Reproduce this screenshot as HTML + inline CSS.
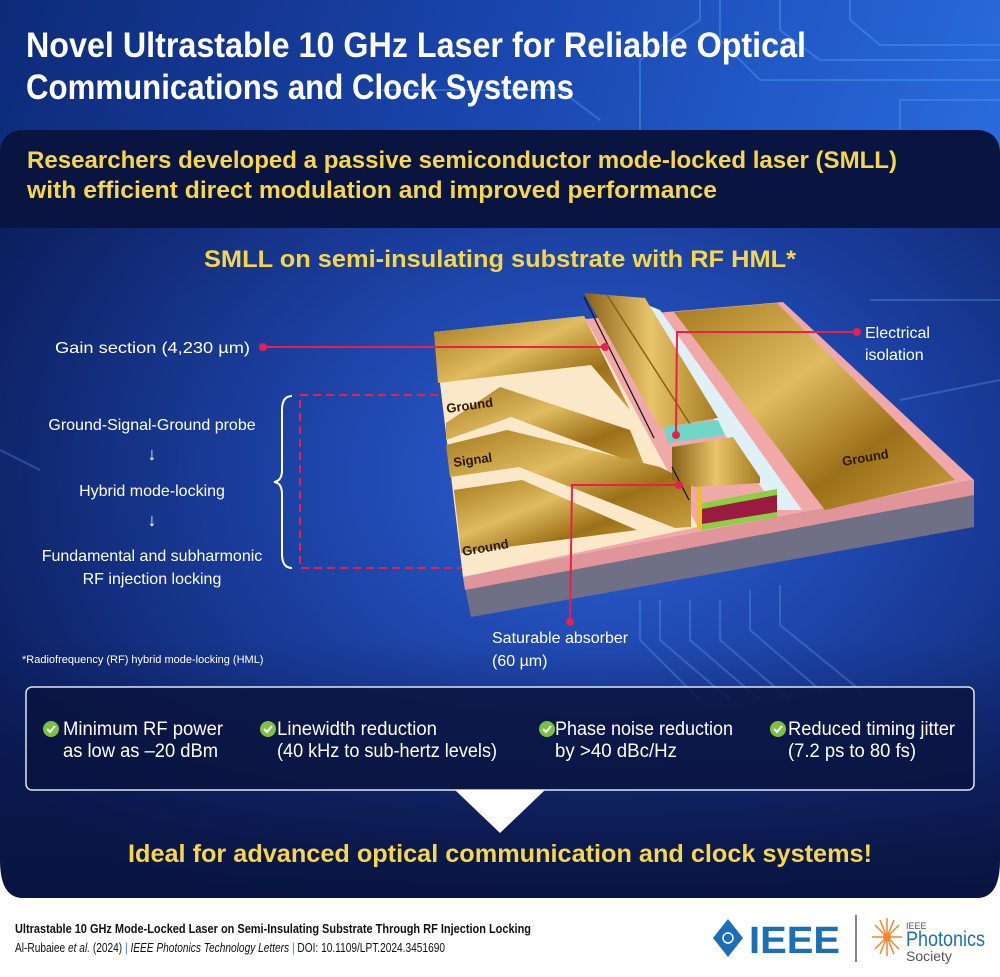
<!DOCTYPE html>
<html><head><meta charset="utf-8"><style>
html,body{margin:0;padding:0;background:#fff}
svg{display:block}
text{font-family:"Liberation Sans Narrow","Liberation Sans",sans-serif}
</style></head><body>
<svg width="1000" height="977" viewBox="0 0 1000 977" xmlns="http://www.w3.org/2000/svg">
<defs>
<linearGradient id="top" x1="0" y1="0" x2="1" y2="0.3">
<stop offset="0" stop-color="#0d2a78"/><stop offset="0.5" stop-color="#1a47b0"/><stop offset="1" stop-color="#2a6ee0"/></linearGradient>
<radialGradient id="mid" cx="0.6" cy="0.45" r="0.7">
<stop offset="0" stop-color="#2d62d8"/><stop offset="0.5" stop-color="#1a3e9e"/><stop offset="1" stop-color="#0b1c58"/></radialGradient>
<linearGradient id="fade" x1="0" y1="0" x2="0" y2="1">
<stop offset="0" stop-color="#0a1548" stop-opacity="0"/><stop offset="1" stop-color="#091440" stop-opacity="1"/></linearGradient>
<linearGradient id="gold" x1="0" y1="0" x2="1" y2="1">
<stop offset="0" stop-color="#a67a1e"/><stop offset="0.4" stop-color="#e0bb60"/><stop offset="0.7" stop-color="#9c7018"/><stop offset="1" stop-color="#caa040"/></linearGradient>
<linearGradient id="gold2" x1="0" y1="0" x2="1" y2="0">
<stop offset="0" stop-color="#8a6015"/><stop offset="0.5" stop-color="#e8c56a"/><stop offset="1" stop-color="#a47a20"/></linearGradient>
</defs>
<rect width="1000" height="898" fill="url(#top)"/>
<g stroke="#4a9af0" stroke-width="2" fill="none" opacity="0.45">
<path d="M720 0 L720 40 L760 80 L1000 80"/><path d="M780 0 L780 30 L820 60 L1000 60"/><path d="M850 0 L850 20 L880 45 L1000 45"/>
<path d="M640 130 L640 60 L700 20 L700 0"/><path d="M900 130 L900 100 L1000 100"/><path d="M600 120 L560 90 L380 90"/>
</g>
<path d="M0 155 Q0 130 25 130 L975 130 Q1000 130 1000 155 L1000 875 Q1000 898 977 898 L23 898 Q0 898 0 875 Z" fill="url(#mid)"/>
<path d="M0 155 Q0 130 25 130 L975 130 Q1000 130 1000 155 L1000 228 L0 228 Z" fill="#0a1440"/>
<rect x="0" y="640" width="1000" height="258" fill="url(#fade)"/>
<path d="M0 860 Q0 898 23 898 L977 898 Q1000 898 1000 860 L1000 898 L0 898Z" fill="#fff"/>
<g stroke="#5aa0f0" stroke-width="2" fill="none" opacity="0.35">
<path d="M640 600 L640 640 L700 700"/><path d="M660 600 L660 640 L730 700"/><path d="M690 600 L690 640 L760 700"/><path d="M720 600 L720 640 L790 700"/><path d="M750 590 L750 630 L820 690"/><path d="M780 585 L780 625 L860 690"/>
<path d="M870 300 L1000 300"/><path d="M900 400 L1000 380"/><path d="M0 450 L40 470"/>
</g>

<text x="26" y="57" font-size="35" font-weight="bold" fill="#fff" textLength="780" lengthAdjust="spacingAndGlyphs">Novel Ultrastable 10 GHz Laser for Reliable Optical</text>
<text x="26" y="99" font-size="35" font-weight="bold" fill="#fff" textLength="548" lengthAdjust="spacingAndGlyphs">Communications and Clock Systems</text>
<text x="27" y="168" font-size="24" font-weight="bold" fill="#f6d64a" textLength="870" lengthAdjust="spacingAndGlyphs">Researchers developed a passive semiconductor mode-locked laser (SMLL)</text>
<text x="27" y="198" font-size="24" font-weight="bold" fill="#f6d64a" textLength="690" lengthAdjust="spacingAndGlyphs">with efficient direct modulation and improved performance</text>
<text x="204" y="267" font-size="24" font-weight="bold" fill="#f6d64a" textLength="592" lengthAdjust="spacingAndGlyphs">SMLL on semi-insulating substrate with RF HML*</text>

<!-- chip -->
<polygon points="463,577 974,480 974,527 471,617" fill="#6f6f86"/>
<polygon points="463,577 974,480 974,495 465,590" fill="#e0959a"/>
<polygon points="434,332 783,302 974,480 463,577" fill="#f0a8a8"/>
<polygon points="434,332 584,316 698,527 463,577" fill="#fbe8c8"/>
<polygon points="434,332 584,316 630,410 591,365 438,383" fill="url(#gold)"/>
<polygon points="446,423 500,387 630,430 645,467 511,417 446,440" fill="url(#gold)"/>
<polygon points="446,445 507,430 660,467 691,483 691,527 675,528 519,467 450,477" fill="url(#gold)"/>
<polygon points="454,490 522,480 637,530 461,553" fill="url(#gold)"/>
<polygon points="630,298 660,310 802,510 777,510" fill="#dff0f6"/>
<polygon points="584,293 645,298 718,418 660,428" fill="url(#gold2)"/>
<line x1="607" y1="295" x2="690" y2="424" stroke="#8a6015" stroke-width="1.5"/>
<polygon points="664,427 718,420 725,435 668,443" fill="#6fd6c8"/>
<polygon points="672,447 733,437 760,477 760,483 695,487 672,480" fill="url(#gold2)"/>
<polygon points="702,507 777,493 777,517 702,527" fill="#9a1a40"/>
<polygon points="702,503 777,489 777,495 702,509" fill="#8ad040"/>
<polygon points="702,524 777,512 777,517 702,530" fill="#8ad040"/>
<polygon points="697,487 702,487 702,530 697,530" fill="#f0c020"/>
<polygon points="674,312 777,303 955,480 825,510" fill="url(#gold)"/>
<line x1="584" y1="297" x2="654" y2="438" stroke="#111" stroke-width="1.2"/>
<line x1="672" y1="467" x2="689" y2="500" stroke="#111" stroke-width="1.2"/>
<g font-family="Liberation Sans Narrow,sans-serif" font-weight="bold" font-size="13" fill="#2a1a05">
<text transform="translate(447,413) rotate(-8)">Ground</text>
<text transform="translate(454,467) rotate(-8)">Signal</text>
<text transform="translate(463,556) rotate(-10)">Ground</text>
<text transform="translate(843,466) rotate(-10)">Ground</text>
</g>

<!-- callouts -->
<g stroke="#e8204a" stroke-width="2" fill="none">
<line x1="263" y1="347" x2="605" y2="347"/>
<path d="M857 332 L677 332 L676 435"/>
<path d="M679 485 L572 485 L570 622"/>
<path d="M438 395 L300 395 L300 568 L461 568" stroke-dasharray="8,5"/>
</g>
<g fill="#e8204a"><circle cx="263" cy="347" r="4"/><circle cx="605" cy="347" r="4"/><circle cx="857" cy="332" r="4"/><circle cx="676" cy="435" r="4"/><circle cx="679" cy="485" r="4"/><circle cx="570" cy="622" r="4"/></g>
<path d="M292 396 Q282 396 282 410 L282 470 Q282 481 274 482 Q282 483 282 494 L282 554 Q282 568 292 568" stroke="#fff" stroke-width="2" fill="none"/>

<g font-family="Liberation Sans,sans-serif" font-size="16" fill="#fff">
<text x="55" y="353" textLength="195" lengthAdjust="spacingAndGlyphs">Gain section (4,230 µm)</text>
<text x="865" y="338">Electrical</text><text x="865" y="360">isolation</text>
<text x="492" y="643">Saturable absorber</text><text x="492" y="666">(60 µm)</text>
<text x="152" y="430" text-anchor="middle">Ground-Signal-Ground probe</text>
<text x="152" y="460" text-anchor="middle" font-size="18">↓</text>
<text x="152" y="496" text-anchor="middle">Hybrid mode-locking</text>
<text x="152" y="526" text-anchor="middle" font-size="18">↓</text>
<text x="152" y="561" text-anchor="middle">Fundamental and subharmonic</text>
<text x="152" y="584" text-anchor="middle">RF injection locking</text>
<text x="22" y="663" font-size="11">*Radiofrequency (RF) hybrid mode-locking (HML)</text>
</g>

<rect x="26" y="687" width="948" height="103" rx="6" fill="#0a1440" fill-opacity="0.85" stroke="#dfe6f5" stroke-width="1.5"/>
<polygon points="455,790 545,790 500,833" fill="#fff"/>
<g font-family="Liberation Sans Narrow,Liberation Sans,sans-serif" font-size="19" fill="#fff">
<g fill="#7ac143"><circle cx="51" cy="729" r="8"/><circle cx="268" cy="729" r="8"/><circle cx="547" cy="729" r="8"/><circle cx="778" cy="729" r="8"/></g>
<g stroke="#fff" stroke-width="2" fill="none"><path d="M47 729 l3 3 l5 -6"/><path d="M264 729 l3 3 l5 -6"/><path d="M543 729 l3 3 l5 -6"/><path d="M774 729 l3 3 l5 -6"/></g>
<text x="63" y="735" textLength="160" lengthAdjust="spacingAndGlyphs">Minimum RF power</text>
<text x="63" y="757" textLength="155" lengthAdjust="spacingAndGlyphs">as low as –20 dBm</text>
<text x="277" y="735" textLength="160" lengthAdjust="spacingAndGlyphs">Linewidth reduction</text>
<text x="277" y="757" textLength="220" lengthAdjust="spacingAndGlyphs">(40 kHz to sub-hertz levels)</text>
<text x="555" y="735" textLength="178" lengthAdjust="spacingAndGlyphs">Phase noise reduction</text>
<text x="555" y="757" textLength="122" lengthAdjust="spacingAndGlyphs">by &gt;40 dBc/Hz</text>
<text x="788" y="735" textLength="167" lengthAdjust="spacingAndGlyphs">Reduced timing jitter</text>
<text x="788" y="757" textLength="128" lengthAdjust="spacingAndGlyphs">(7.2 ps to 80 fs)</text>
</g>
<text x="128" y="862" font-size="25" font-weight="bold" fill="#f6d64a" textLength="744" lengthAdjust="spacingAndGlyphs">Ideal for advanced optical communication and clock systems!</text>

<!-- footer -->
<text x="15" y="933" font-size="13" font-weight="bold" fill="#111" textLength="516" lengthAdjust="spacingAndGlyphs">Ultrastable 10 GHz Mode-Locked Laser on Semi-Insulating Substrate Through RF Injection Locking</text>
<text x="15" y="952" font-size="12.5" fill="#111" textLength="430" lengthAdjust="spacingAndGlyphs">Al-Rubaiee <tspan font-style="italic">et al.</tspan> (2024) <tspan fill="#2a7ad0">|</tspan> <tspan font-style="italic">IEEE Photonics Technology Letters</tspan> <tspan fill="#2a7ad0">|</tspan> DOI: 10.1109/LPT.2024.3451690</text>
<polygon points="728,919 743,938 728,957 713,938" fill="#1a6fb8"/>
<circle cx="728" cy="938" r="5" fill="none" stroke="#fff" stroke-width="1.5"/>
<text x="749" y="953" font-family="Liberation Sans,sans-serif" font-size="38" font-weight="bold" fill="#1a6fb8" textLength="91" lengthAdjust="spacingAndGlyphs">IEEE</text>
<line x1="856" y1="915" x2="856" y2="962" stroke="#333" stroke-width="1.2"/>
<g stroke="#f0852a" stroke-width="1.5">
<line x1="872" y1="937" x2="902" y2="937"/><line x1="887" y1="918" x2="887" y2="956"/><line x1="875" y1="925" x2="899" y2="949"/><line x1="875" y1="949" x2="899" y2="925"/><line x1="880" y1="920" x2="894" y2="954"/><line x1="894" y1="920" x2="880" y2="954"/>
</g>
<circle cx="887" cy="937" r="4" fill="#f0852a"/>
<text x="906" y="929" font-size="9" fill="#555">IEEE</text>
<text x="906" y="946" font-size="21" fill="#1a6fb8" textLength="79" lengthAdjust="spacingAndGlyphs">Photonics</text>
<text x="906" y="961" font-size="14" fill="#555">Society</text>
</svg>
</body></html>
